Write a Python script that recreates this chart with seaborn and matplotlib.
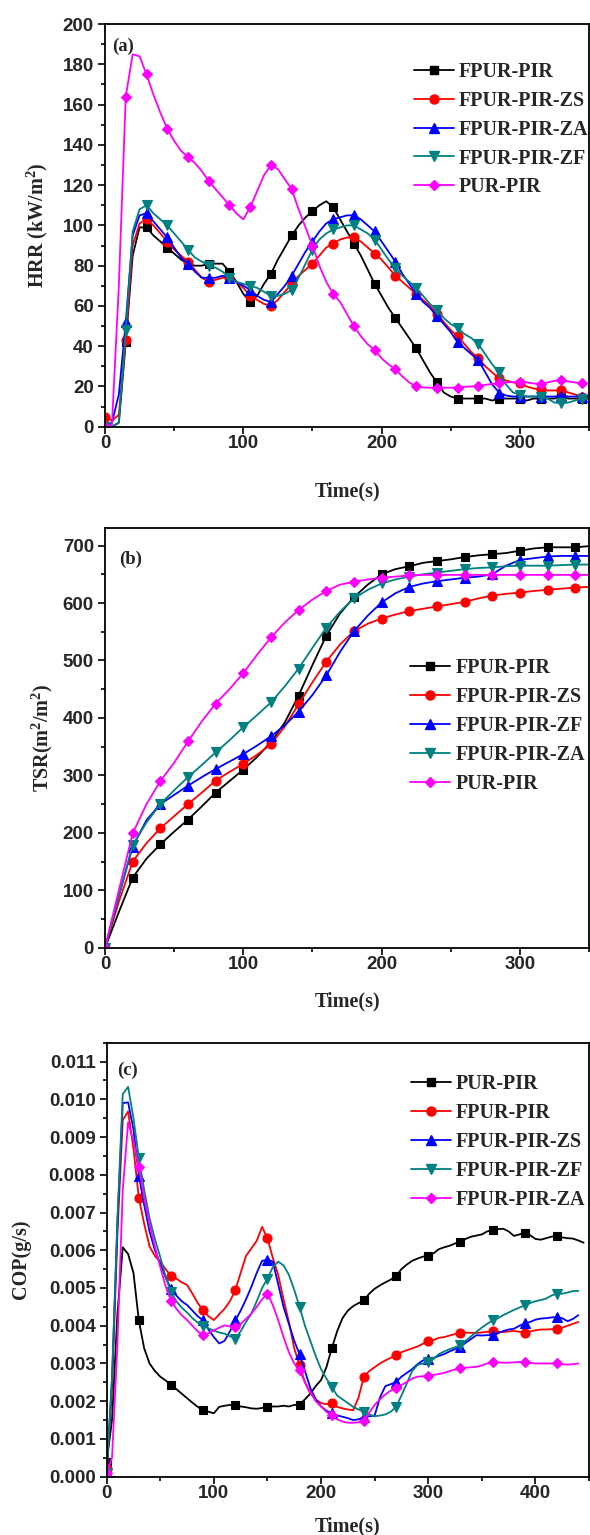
import numpy as np
import pandas as pd
import matplotlib
matplotlib.use("Agg")
import matplotlib.pyplot as plt
from matplotlib.lines import Line2D
from matplotlib.ticker import MultipleLocator, FormatStrFormatter
import seaborn as sns

# ---------------- (a) heat release rate, sampled every 5 s ----------------
hrr_time = np.arange(0, 355, 5)
hrr_fpur_pir = [0, 0, 2, 42, 85, 99, 99, 95, 92, 89,
                86, 83, 81, 80, 80, 81, 81, 81, 77, 72,
                66, 62, 65, 71, 76, 83, 89, 95, 100, 104,
                107, 110, 112, 109, 103, 97, 91, 85, 78, 71,
                65, 59, 54, 49, 44, 39, 33, 27, 22, 17,
                15, 14, 14, 14, 14, 14, 13, 14, 14, 14,
                14, 13, 14, 14, 14, 14, 15, 14, 14, 14, 14]
hrr_fpur_pir_zs = [5, 3, 6, 43, 90, 101, 103, 100, 96, 92,
                   88, 85, 82, 78, 74, 72, 73, 74, 74, 72,
                   69, 65, 63, 61, 60, 63, 67, 71, 75, 78,
                   81, 85, 89, 91, 93, 94, 94, 92, 89, 86,
                   83, 79, 75, 72, 69, 66, 63, 60, 56, 52,
                   48, 45, 41, 37, 34, 30, 27, 24, 23, 22,
                   21.5, 20, 19, 18.5, 18, 18, 18, 17, 16, 15, 15]
hrr_fpur_pir_za = [0, 2, 16, 52, 95, 105, 106, 102, 98, 94,
                   89, 84, 81, 77, 74, 74, 74, 75, 74, 72,
                   70, 68, 65, 63, 62, 66, 70, 75, 81, 87,
                   92, 97, 101, 103, 104, 105, 105, 103, 100, 97,
                   92, 87, 82, 76, 71, 66, 62, 59, 55, 51,
                   47, 42, 39, 36, 33, 27, 21, 17, 15.5, 15,
                   15, 15, 15, 15, 15, 15, 15.5, 15, 15, 15, 15]
hrr_fpur_pir_zf = [0, 0, 2, 48, 97, 108, 110, 106, 103, 100,
                   96, 92, 88, 84, 82, 80, 79, 77, 74, 72,
                   71, 70, 69, 67, 65, 65, 66, 68, 74, 81,
                   88, 93, 96, 98, 99, 100, 100, 98, 96, 93,
                   88, 83, 79, 75, 72, 69, 65, 61, 58, 54,
                   51, 49, 46, 44, 41, 36, 31, 27, 21, 17,
                   16, 15, 15, 15, 14, 12, 11.6, 12, 13, 14, 14]
hrr_pur_pir = [0, 1, 70, 164, 185, 184, 175, 165, 156, 148,
               142, 137, 134, 131, 127, 122, 118, 114, 110, 106,
               103, 109, 117, 125, 130, 128, 123, 118, 108, 99,
               90, 80, 72, 66, 62, 56, 50, 45, 41, 38,
               34, 31, 28.5, 25, 22, 20, 19.5, 19.4, 19.4, 19.4,
               19.4, 19.4, 19.8, 20, 20.2, 20.8, 21.3, 21.5, 22, 22.2,
               22.4, 22, 21.5, 21.2, 22, 22.8, 23.2, 22.5, 22, 21.5, 21.5]

# ---------------- (b) total smoke release, sampled every 10 s ----------------
tsr_time = np.arange(0, 360, 10)
tsr_fpur_pir = [0, 62, 122, 155, 180, 202, 223, 246, 270, 290,
                310, 332, 358, 392, 439, 492, 543, 582, 610, 632,
                650, 659, 664, 670, 673, 676, 680, 683, 685, 687,
                691, 695, 697, 697, 697, 699]
tsr_fpur_pir_zs = [0, 80, 150, 182, 208, 229, 250, 270, 291, 306,
                   320, 336, 354, 385, 424, 462, 498, 528, 551, 564,
                   573, 580, 586, 590, 594, 598, 602, 608, 613, 616,
                   618, 621, 623, 625, 627, 628]
tsr_fpur_pir_zf = [0, 90, 176, 222, 250, 266, 282, 297, 311, 324,
                   337, 352, 368, 387, 411, 440, 474, 515, 551, 578,
                   601, 617, 628, 634, 638, 641, 644, 646, 650, 665,
                   675, 678, 681, 682, 682, 682]
tsr_fpur_pir_za = [0, 90, 179, 218, 250, 274, 297, 318, 340, 361,
                   384, 405, 427, 455, 486, 522, 557, 585, 608, 623,
                   634, 641, 646, 650, 653, 656, 659, 661, 662, 664,
                   665, 665, 665, 666, 667, 667]
tsr_pur_pir = [0, 100, 199, 250, 290, 322, 359, 394, 425, 450,
               478, 510, 540, 566, 588, 606, 621, 632, 637, 641,
               644, 646, 648, 649, 649, 649, 649, 649, 649, 649,
               649, 649, 649, 649, 649, 649]

# ---------------- (c) CO production, sampled every 5 s (values in 1e-3 g/s) ----------------
cop_time = np.arange(0, 450, 5)
cop_pur_pir = [0.4, 1.5, 4.3, 6.08, 5.9, 5.4, 4.14, 3.4, 3.0, 2.8,
               2.65, 2.55, 2.43, 2.32, 2.2, 2.08, 1.96, 1.85, 1.76, 1.72,
               1.68, 1.85, 1.88, 1.9, 1.9, 1.86, 1.84, 1.81, 1.8, 1.82,
               1.85, 1.86, 1.86, 1.88, 1.86, 1.9, 1.91, 2.05, 2.2, 2.4,
               2.56, 2.9, 3.4, 3.85, 4.2, 4.4, 4.52, 4.6, 4.67, 4.85,
               4.98, 5.07, 5.15, 5.22, 5.32, 5.5, 5.62, 5.72, 5.78, 5.83,
               5.86, 5.92, 6.03, 6.08, 6.12, 6.18, 6.23, 6.3, 6.36, 6.39,
               6.42, 6.5, 6.53, 6.56, 6.57, 6.5, 6.38, 6.42, 6.47, 6.4,
               6.3, 6.28, 6.32, 6.36, 6.38, 6.34, 6.32, 6.31, 6.26, 6.2]
cop_fpur_pir = [0.2, 2.3, 6.4, 9.45, 9.68, 8.7, 7.39, 6.7, 6.1, 5.85,
                5.69, 5.5, 5.32, 5.25, 5.15, 5.08, 4.85, 4.6, 4.41, 4.25,
                4.15, 4.3, 4.45, 4.65, 4.94, 5.4, 5.85, 6.05, 6.25, 6.62,
                6.32, 5.8, 5.35, 4.7, 4.1, 3.4, 2.95, 2.5, 2.2, 2.05,
                1.95, 1.92, 1.94, 1.85, 1.81, 1.78, 1.76, 2.1, 2.65, 2.8,
                2.9, 3.0, 3.08, 3.15, 3.22, 3.3, 3.35, 3.4, 3.45, 3.52,
                3.6, 3.62, 3.68, 3.7, 3.74, 3.78, 3.81, 3.82, 3.81, 3.81,
                3.82, 3.84, 3.85, 3.84, 3.83, 3.85, 3.86, 3.84, 3.82, 3.85,
                3.88, 3.9, 3.9, 3.91, 3.92, 3.95, 4.0, 4.05, 4.1, np.nan]
cop_fpur_pir_zs = [0.1, 2.6, 6.7, 9.9, 9.92, 9.2, 7.98, 7.2, 6.5, 6.0,
                   5.64, 5.28, 4.98, 4.8, 4.65, 4.55, 4.4, 4.25, 4.14, 3.9,
                   3.7, 3.53, 3.6, 3.85, 4.14, 4.4, 4.7, 5.03, 5.4, 5.72,
                   5.75, 5.7, 5.1, 4.5, 4.05, 3.6, 3.24, 2.8, 2.35, 2.05,
                   1.86, 1.75, 1.68, 1.62, 1.59, 1.55, 1.5, 1.52, 1.58, 1.6,
                   1.62, 2.1, 2.4, 2.45, 2.51, 2.65, 2.75, 2.85, 2.98, 3.08,
                   3.13, 3.15, 3.2, 3.25, 3.32, 3.38, 3.44, 3.55, 3.65, 3.75,
                   3.74, 3.75, 3.75, 3.8, 3.86, 3.9, 3.92, 4.0, 4.06, 4.1,
                   4.16, 4.19, 4.2, 4.22, 4.23, 4.2, 4.12, 4.18, 4.28, np.nan]
cop_fpur_pir_zf = [0.1, 2.6, 6.8, 10.14, 10.33, 9.5, 8.45, 7.6, 6.85, 6.3,
                   5.82, 5.3, 4.89, 4.65, 4.48, 4.35, 4.2, 4.08, 4.0, 3.93,
                   3.87, 3.82, 3.79, 3.72, 3.66, 3.85, 4.1, 4.32, 4.65, 5.0,
                   5.25, 5.55, 5.7, 5.6, 5.35, 4.95, 4.5, 4.0, 3.6, 3.2,
                   2.85, 2.6, 2.38, 2.15, 2.05, 1.95, 1.85, 1.78, 1.72, 1.65,
                   1.6, 1.62, 1.65, 1.72, 1.85, 2.15, 2.47, 2.8, 2.96, 3.0,
                   3.04, 3.12, 3.25, 3.32, 3.38, 3.43, 3.48, 3.6, 3.72, 3.84,
                   3.95, 4.05, 4.14, 4.2, 4.28, 4.35, 4.42, 4.48, 4.54, 4.6,
                   4.65, 4.68, 4.72, 4.8, 4.85, 4.85, 4.88, 4.92, 4.92, np.nan]
cop_fpur_pir_za = [0.1, 0.5, 3.5, 7.6, 9.39, 8.9, 8.2, 7.4, 6.7, 6.1,
                   5.56, 5.05, 4.66, 4.45, 4.28, 4.15, 4.0, 3.85, 3.75, 3.8,
                   3.88, 3.95, 4.01, 3.98, 3.97, 4.05, 4.18, 4.32, 4.5, 4.7,
                   4.85, 4.55, 4.15, 3.7, 3.3, 3.0, 2.82, 2.5, 2.25, 2.0,
                   1.86, 1.72, 1.63, 1.52, 1.46, 1.43, 1.43, 1.44, 1.47, 1.7,
                   1.9, 2.05, 2.18, 2.28, 2.35, 2.43, 2.51, 2.6, 2.65, 2.66,
                   2.66, 2.7, 2.72, 2.75, 2.8, 2.84, 2.87, 2.89, 2.9, 2.91,
                   2.95, 3.0, 3.04, 3.03, 3.02, 3.02, 3.03, 3.04, 3.04, 3.02,
                   3.0, 3.0, 3.0, 3.0, 3.0, 2.98, 2.97, 2.98, 3.0, np.nan]

SERIF = ["Liberation Serif", "DejaVu Serif"]
BLACK, RED, BLUE, TEAL, MAGENTA = "#000000", "#ff0000", "#0000ff", "#008080", "#ff00ff"
# marker -> size for each symbol used in the figure
STYLE = {"s": 6.0, "o": 6.5, "^": 7.0, "v": 7.0, "D": 5.5}


def draw_series(ax, t, y, color, marker, every):
    df = pd.DataFrame({"t": t, "y": y})
    sns.lineplot(data=df, x="t", y="y", ax=ax, color=color, marker=marker,
                 markersize=STYLE[marker], markerfacecolor=color, markeredgecolor=color,
                 markeredgewidth=0.8, markevery=every, linewidth=1.3,
                 estimator=None, errorbar=None, sort=False, legend=False)


def add_legend(ax, labels, colors, markers, anchor):
    handles = [Line2D([], [], color=c, marker=m, markersize=STYLE[m], mfc=c, mec=c, lw=1.3)
               for c, m in zip(colors, markers)]
    ax.legend(handles, labels, loc="upper left", bbox_to_anchor=anchor, frameon=False,
              prop={"family": SERIF, "weight": "bold", "size": 14.5},
              handlelength=2.0, handletextpad=0.25, labelspacing=0.44,
              borderpad=0, borderaxespad=0)


def style_axes(ax, xmax, xmajor, ymax, ymajor, yminor, letter, letter_pos):
    ax.set_xlim(0, xmax)
    ax.set_ylim(0, ymax)
    ax.xaxis.set_major_locator(MultipleLocator(xmajor))
    ax.xaxis.set_minor_locator(MultipleLocator(xmajor / 2))
    ax.yaxis.set_major_locator(MultipleLocator(ymajor))
    ax.yaxis.set_minor_locator(MultipleLocator(yminor))
    ax.tick_params(which="both", direction="out", top=False, right=False, width=1.2,
                   labelsize=13.5, color="black")
    ax.tick_params(which="major", length=5)
    ax.tick_params(which="minor", length=3)
    ax.tick_params(axis="x", pad=1)
    ax.tick_params(axis="y", pad=3)
    for sp in ax.spines.values():
        sp.set_visible(True)
        sp.set_color("black")
        sp.set_linewidth(1.3)
    ax.set_xlabel("Time(s)", family=SERIF, weight="bold", fontsize=14.5)
    ax.text(letter_pos[0], letter_pos[1], letter, transform=ax.transAxes,
            family=SERIF, weight="bold", fontsize=13.5, ha="left", va="center")


sns.set_style("ticks")
plt.rcParams["font.family"] = ["Liberation Sans", "DejaVu Sans"]
plt.rcParams["font.weight"] = "bold"
plt.rcParams["mathtext.fontset"] = "custom"
plt.rcParams["mathtext.rm"] = "Liberation Serif:bold"
plt.rcParams["mathtext.default"] = "rm"

fig = plt.figure(figsize=(5.9, 15.35), dpi=100)

# (a) HRR
ax_a = fig.add_axes([0.178, 0.722, 0.8203, 0.2623])
hrr_series = [hrr_fpur_pir, hrr_fpur_pir_zs, hrr_fpur_pir_za, hrr_fpur_pir_zf, hrr_pur_pir]
hrr_labels = ["FPUR-PIR", "FPUR-PIR-ZS", "FPUR-PIR-ZA", "FPUR-PIR-ZF", "PUR-PIR"]
hrr_colors = [BLACK, RED, BLUE, TEAL, MAGENTA]
hrr_markers = ["s", "o", "^", "v", "D"]
for y, c, m in zip(hrr_series, hrr_colors, hrr_markers):
    draw_series(ax_a, hrr_time, y, c, m, 3)
style_axes(ax_a, 350, 100, 200, 20, 10, "(a)", (0.014, 0.944))
ax_a.set_ylabel(r"HRR (kW/m$^2$)", family=SERIF, weight="bold", fontsize=14.5)
ax_a.yaxis.set_label_coords(-0.114, 0.5)
ax_a.xaxis.set_label_coords(0.5, -0.137)
add_legend(ax_a, hrr_labels, hrr_colors, hrr_markers, (0.638, 0.906))

# (b) TSR
ax_b = fig.add_axes([0.178, 0.3826, 0.8203, 0.2732])
tsr_series = [tsr_fpur_pir, tsr_fpur_pir_zs, tsr_fpur_pir_zf, tsr_fpur_pir_za, tsr_pur_pir]
tsr_labels = ["FPUR-PIR", "FPUR-PIR-ZS", "FPUR-PIR-ZF", "FPUR-PIR-ZA", "PUR-PIR"]
tsr_colors = [BLACK, RED, BLUE, TEAL, MAGENTA]
tsr_markers = ["s", "o", "^", "v", "D"]
for y, c, m in zip(tsr_series, tsr_colors, tsr_markers):
    draw_series(ax_b, tsr_time, y, c, m, 2)
style_axes(ax_b, 350, 100, 730, 100, 50, "(b)", (0.029, 0.927))
ax_b.set_ylabel(r"TSR(m$^2$/m$^2$)", family=SERIF, weight="bold", fontsize=14.5)
ax_b.yaxis.set_label_coords(-0.104, 0.5)
ax_b.xaxis.set_label_coords(0.5, -0.105)
add_legend(ax_b, tsr_labels, tsr_colors, tsr_markers, (0.630, 0.690))

# (c) COP
ax_c = fig.add_axes([0.1808, 0.038, 0.8175, 0.2827])
cop_series = [cop_pur_pir, cop_fpur_pir, cop_fpur_pir_zs, cop_fpur_pir_zf, cop_fpur_pir_za]
cop_labels = ["PUR-PIR", "FPUR-PIR", "FPUR-PIR-ZS", "FPUR-PIR-ZF", "FPUR-PIR-ZA"]
cop_colors = [BLACK, RED, BLUE, TEAL, MAGENTA]
cop_markers = ["s", "o", "^", "v", "D"]
for y, c, m in zip(cop_series, cop_colors, cop_markers):
    draw_series(ax_c, cop_time, np.array(y) * 1e-3, c, m, 6)
style_axes(ax_c, 450, 100, 0.0115, 0.001, 0.0005, "(c)", (0.021, 0.937))
ax_c.yaxis.set_major_formatter(FormatStrFormatter("%.3f"))
ax_c.set_ylabel("COP(g/s)", family=SERIF, weight="bold", fontsize=14.5)
ax_c.yaxis.set_label_coords(-0.157, 0.5)
ax_c.xaxis.set_label_coords(0.5, -0.091)
add_legend(ax_c, cop_labels, cop_colors, cop_markers, (0.630, 0.927))

fig.savefig("out.png", dpi=100)
plt.close(fig)
